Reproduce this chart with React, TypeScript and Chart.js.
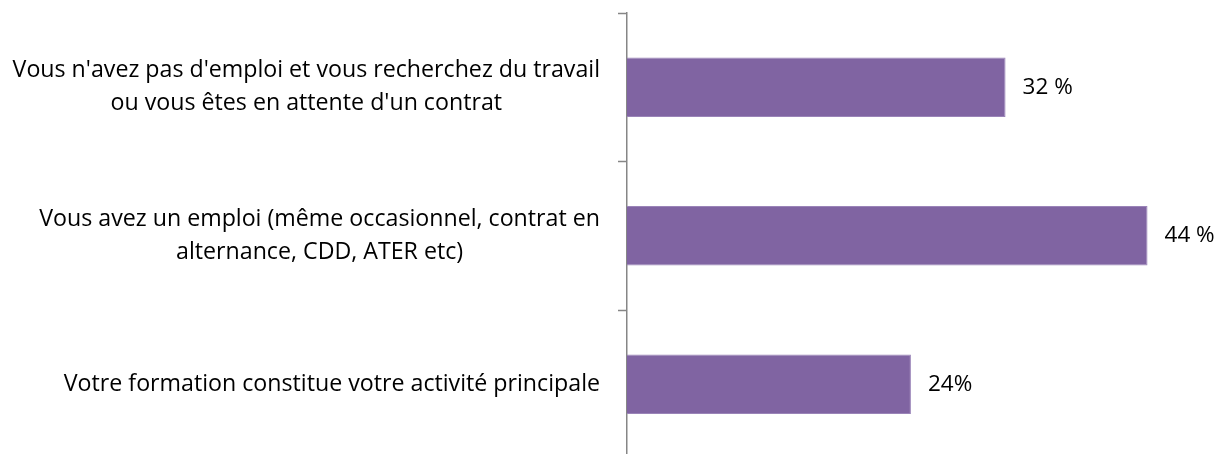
import React, { useEffect, useRef } from "react";
import { Chart, registerables } from "chart.js";

Chart.register(...registerables);

// ---- data ----
const categories: string[][] = [
  ["Vous n'avez pas d'emploi et vous recherchez du travail", "ou vous êtes en attente d'un contrat"],
  ["Vous avez un emploi (même occasionnel, contrat en", "alternance, CDD, ATER etc)"],
  ["Votre formation constitue votre activité principale"],
];
const values: number[] = [32, 44, 24];
const valueLabels: string[] = ["32 %", "44 %", "24%"];
const axisMin = 0;
const axisMax = 50;

// ---- style ----
const FONT = "'Open Sans', Lato, sans-serif";
const CAT_SIZE = 23.2;
const VAL_SIZE = 22.5;
const LINE_H = 33;
const BAR_COLOR = "#8064A2";
const AXIS_COLOR = "#868686";

const catLabelPlugin = {
  id: "catLabels",
  afterDraw(chart: any) {
    const ctx = chart.ctx as CanvasRenderingContext2D;
    const y = chart.scales.y;
    ctx.save();
    ctx.font = `${CAT_SIZE}px ${FONT}`;
    ctx.fillStyle = "#000";
    ctx.textAlign = "center";
    ctx.textBaseline = "middle";
    const rightEdge = chart.chartArea.left - 27;
    categories.forEach((lines, i) => {
      const cy = y.getPixelForValue(i);
      const w = Math.max(...lines.map((l) => ctx.measureText(l).width));
      const cx = rightEdge - w / 2;
      lines.forEach((l, j) => {
        ctx.fillText(l, cx, cy + (j - (lines.length - 1) / 2) * LINE_H);
      });
    });
    ctx.restore();
  },
};

const valueLabelPlugin = {
  id: "valueLabels",
  afterDatasetsDraw(chart: any) {
    const ctx = chart.ctx as CanvasRenderingContext2D;
    const meta = chart.getDatasetMeta(0);
    ctx.save();
    ctx.font = `${VAL_SIZE}px ${FONT}`;
    ctx.fillStyle = "#000";
    ctx.textAlign = "left";
    ctx.textBaseline = "middle";
    meta.data.forEach((bar: any, i: number) => {
      ctx.fillText(valueLabels[i], bar.x + 17, bar.y);
    });
    ctx.restore();
  },
};

export default function App() {
  const ref = useRef<HTMLCanvasElement>(null);
  useEffect(() => {
    if (!ref.current) return;
    const chart = new Chart(ref.current, {
      type: "bar",
      data: {
        labels: categories,
        datasets: [
          {
            data: values,
            backgroundColor: BAR_COLOR,
            borderColor: "#9A84B8",
            borderWidth: 1,
            barPercentage: 0.4,
            categoryPercentage: 1,
          },
        ],
      },
      options: {
        indexAxis: "y",
        responsive: false,
        animation: false,
        events: [],
        layout: { padding: { top: 13, bottom: 1.5, right: 11.5, left: 0 } },
        plugins: { legend: { display: false }, tooltip: { enabled: false } },
        scales: {
          x: { display: false, min: axisMin, max: axisMax },
          y: {
            offset: true,
            grid: {
              offset: true,
              drawOnChartArea: false,
              drawTicks: true,
              tickLength: 9,
              tickColor: AXIS_COLOR,
              tickWidth: 1.5,
            },
            border: { display: true, color: AXIS_COLOR, width: 1.5 },
            ticks: { display: false },
            afterFit: (s: any) => {
              s.width = 627;
            },
          },
        },
      },
      plugins: [catLabelPlugin, valueLabelPlugin],
    });
    return () => chart.destroy();
  }, []);
  return (
    <div style={{ position: "fixed", left: 0, top: 0, width: 1230, height: 454, overflow: "hidden", background: "#fff" }}>
      <canvas ref={ref} width={1230} height={460} style={{ display: "block" }} />
    </div>
  );
}
